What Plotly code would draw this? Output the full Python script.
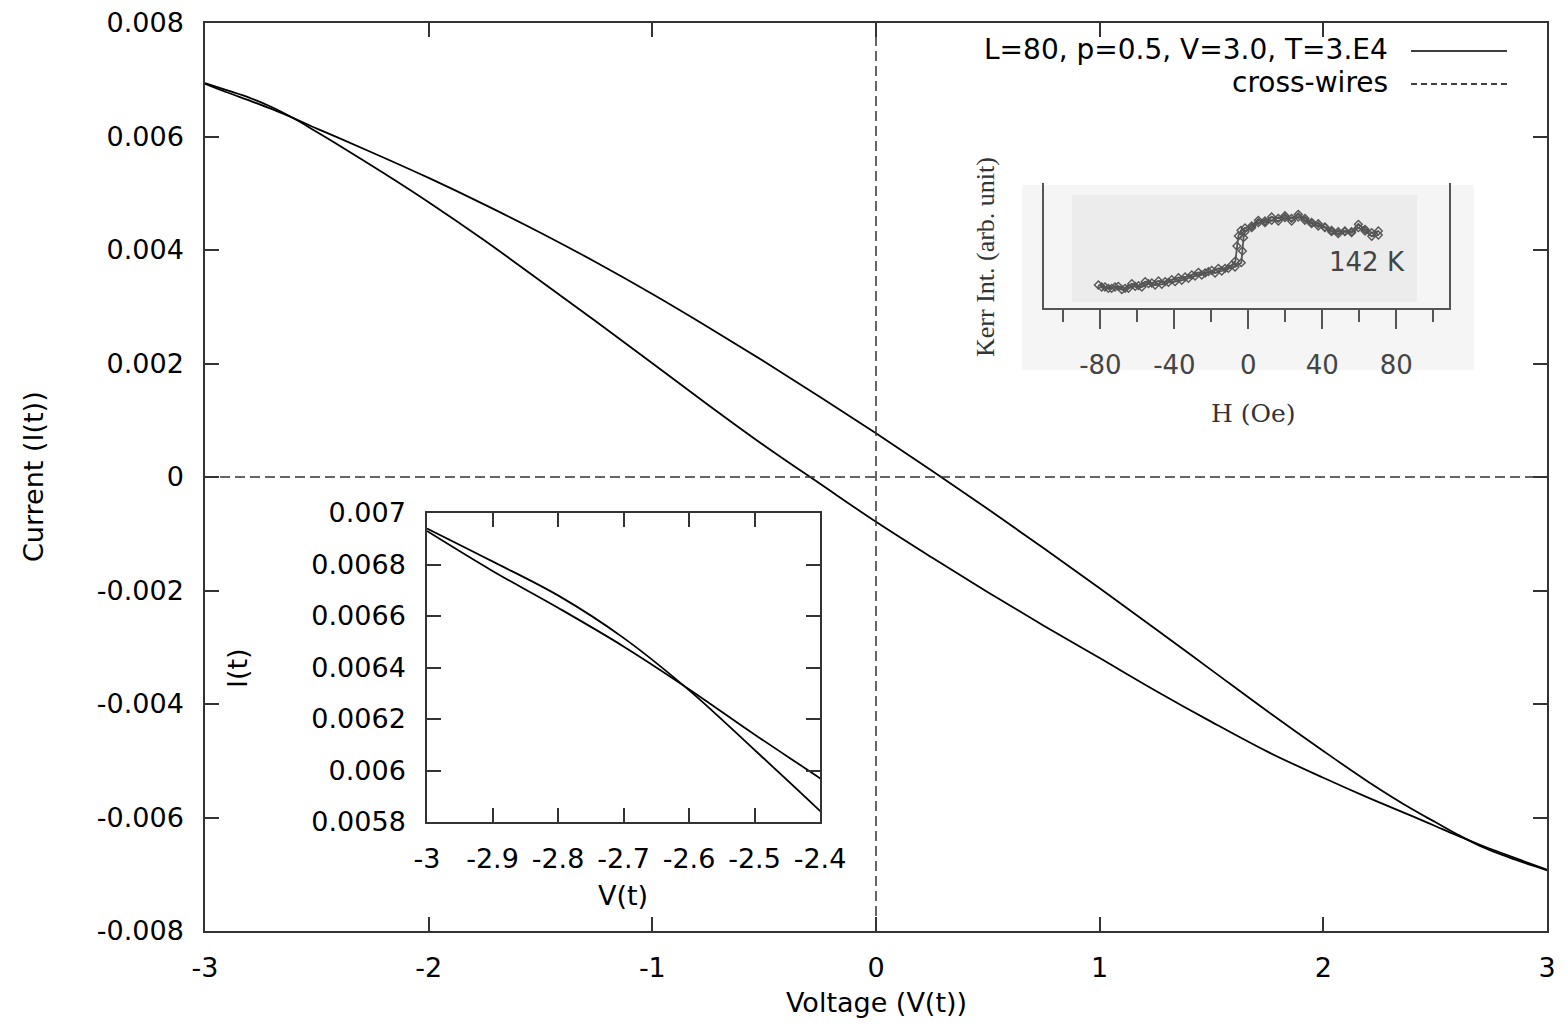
import plotly.graph_objects as go

# ---------------- data ----------------
V = [-3.0, -2.9, -2.8, -2.7, -2.6, -2.5, -2.4, -2.2, -2.0, -1.75, -1.5, -1.25, -1.0, -0.75, -0.5, -0.25,
     0.0, 0.25, 0.5, 0.75, 1.0, 1.25, 1.5, 1.75, 2.0, 2.2, 2.4, 2.5, 2.6, 2.7, 2.8, 2.9, 3.0]
I_branch_a = [0.006930, 0.006775, 0.006632, 0.006482, 0.006316, 0.006140, 0.005970, 0.005626, 0.005270,
              0.004800, 0.004305, 0.003780, 0.003225, 0.002640, 0.002035, 0.001410, 0.000770, 0.000110,
              -0.000565, -0.001255, -0.001960, -0.002678, -0.003403, -0.004128, -0.004828, -0.005368,
              -0.005860, -0.006080, -0.006300, -0.006500, -0.006660, -0.006800, -0.006930]
I_branch_b = [0.006940, 0.006812, 0.006680, 0.006515, 0.006312, 0.006080, 0.005843, 0.005352, 0.004842,
              0.004167, 0.003455, 0.002735, 0.002005, 0.001270, 0.000555, -0.000120, -0.000790, -0.001420,
              -0.002030, -0.002620, -0.003190, -0.003765, -0.004315, -0.004840, -0.005300, -0.005650,
              -0.005980, -0.006150, -0.006320, -0.006480, -0.006630, -0.006775, -0.006920]

cross_x_h = [-3, 3]
cross_y_h = [0, 0]
cross_x_v = [0, 0]
cross_y_v = [-0.008, 0.008]

main_xticks = [-3, -2, -1, 0, 1, 2, 3]
main_xticktext = ["-3", "-2", "-1", "0", "1", "2", "3"]
main_yticks = [-0.008, -0.006, -0.004, -0.002, 0, 0.002, 0.004, 0.006, 0.008]
main_yticktext = ["-0.008", "-0.006", "-0.004", "-0.002", "0", "0.002", "0.004", "0.006", "0.008"]

inset_xticks = [-3, -2.9, -2.8, -2.7, -2.6, -2.5, -2.4]
inset_xticktext = ["-3", "-2.9", "-2.8", "-2.7", "-2.6", "-2.5", "-2.4"]
inset_yticks = [0.0058, 0.006, 0.0062, 0.0064, 0.0066, 0.0068, 0.007]
inset_yticktext = ["0.0058", "0.006", "0.0062", "0.0064", "0.0066", "0.0068", "0.007"]

# Kerr hysteresis (arb. units), two sweep branches
H_up = [-81.1, -77.5, -73.9, -70.3, -66.6, -63.0, -59.4, -55.8, -52.2, -48.6, -45.0, -41.4, -37.8, -34.2,
        -30.6, -27.0, -23.4, -19.8, -16.2, -12.6, -9.0, -7.0, -6.2, -5.4, -4.0, -1.8, 1.8, 5.4, 9.0, 12.6,
        16.2, 19.8, 23.4, 27.0, 30.6, 34.2, 37.8, 41.4, 45.0, 48.6, 52.2, 55.8, 59.5, 63.1, 66.7, 70.3]
K_up = [23, 21, 19.7, 21.7, 19.7, 24.3, 22.3, 26.3, 25, 27, 26.3, 28.3, 30.3, 31, 33, 35.7, 35, 37.7, 39.7,
        39.7, 43, 47, 62, 72, 77.7, 80, 82, 87.7, 87, 91, 89.7, 92.3, 89.7, 93.7, 89.7, 85.7, 84.3, 81,
        77.7, 76.3, 77, 76.3, 83.7, 78.7, 75.3, 77]
H_down = [70.3, 66.7, 63.1, 59.5, 55.8, 52.2, 48.6, 45.0, 41.4, 37.8, 34.2, 30.6, 27.0, 23.4, 19.8, 16.2,
          12.6, 9.0, 5.4, 1.8, -1.8, -2.6, -3.2, -3.8, -7.2, -10.8, -14.4, -18.0, -21.6, -25.2, -28.8,
          -32.4, -36.0, -39.6, -43.2, -46.8, -50.4, -54.0, -57.6, -61.2, -64.8, -68.4, -72.1, -75.7, -79.3]
K_down = [73, 71.7, 77, 80.3, 75.3, 76.3, 74.3, 76.3, 80.3, 82, 84.3, 87.7, 91, 87, 90.3, 87, 87.7, 85.3,
          85.3, 80.3, 76.3, 70.3, 57, 45.3, 41, 39.7, 37, 35, 36.3, 33, 32, 29.7, 27.7, 26.3, 25.7, 23.7,
          23, 24.3, 21, 21.7, 19.7, 18.3, 21, 19.7, 21]
kerr_xticks = [-80, -40, 0, 40, 80]
kerr_xticktext = ["-80", "-40", "0", "40", "80"]
kerr_minor = [-100, -60, -20, 20, 60, 100]

legend_main = "L=80, p=0.5, V=3.0, T=3.E4"
legend_cross = "cross-wires"

# ---------------- figure ----------------
SANS = "DejaVu Sans"
AX = "#333333"
GRAY = "#555555"

fig = go.Figure()

for yy in (I_branch_a, I_branch_b):
    fig.add_trace(go.Scatter(x=V, y=yy, mode="lines", line=dict(color="black", width=1.8, shape="spline", smoothing=1.0),
                             xaxis="x", yaxis="y", showlegend=False, hoverinfo="skip"))
fig.add_trace(go.Scatter(x=cross_x_h, y=cross_y_h, mode="lines", line=dict(color=AX, width=1.5, dash="10px,5px"),
                         xaxis="x", yaxis="y", showlegend=False))
fig.add_trace(go.Scatter(x=cross_x_v, y=cross_y_v, mode="lines", line=dict(color=AX, width=1.5, dash="10px,5px"),
                         xaxis="x", yaxis="y", showlegend=False))

for yy in (I_branch_a, I_branch_b):
    fig.add_trace(go.Scatter(x=V, y=yy, mode="lines", line=dict(color="black", width=1.8, shape="spline", smoothing=1.0),
                             xaxis="x2", yaxis="y2", showlegend=False))

for hh, kk in ((H_up, K_up), (H_down, K_down)):
    fig.add_trace(go.Scatter(x=hh, y=kk, mode="lines+markers",
                             line=dict(color=GRAY, width=1.8),
                             marker=dict(symbol="diamond-open", size=6, color=GRAY, line=dict(width=1.4, color=GRAY)),
                             xaxis="x3", yaxis="y3", showlegend=False))

# page places the figure 8px in from the top-left corner (default body margin)
OFF = 8
W, Hh = 1567, 1025
L, R, T, B = 205 - OFF, 20 + OFF, 23 - OFF, 94 + OFF
PW, PH = W - L - R, Hh - T - B


def px(x):
    return (x - OFF - L) / PW


def py(y):
    return (Hh - B - (y - OFF)) / PH


tickfont = dict(family=SANS, size=27, color="black")
common = dict(showline=True, linecolor=AX, linewidth=1.5, mirror="allticks", ticks="inside",
              tickcolor=AX, tickwidth=1.5, showgrid=False, zeroline=False, tickfont=tickfont, automargin=False,
              ticklabeloverflow="allow")

fig.update_layout(
    width=W, height=Hh, autosize=False,
    margin=dict(l=L, r=R, t=T, b=B, pad=0, autoexpand=False),
    paper_bgcolor="white", plot_bgcolor="rgba(0,0,0,0)",
    showlegend=False,
    xaxis=dict(domain=[0, 1], range=[-3, 3], tickvals=main_xticks, ticktext=main_xticktext, ticklen=14,
               ticklabelstandoff=12, anchor="y", **common),
    yaxis=dict(domain=[0, 1], range=[-0.008, 0.008], tickvals=main_yticks, ticktext=main_yticktext, ticklen=14,
               ticklabelstandoff=14, anchor="x", **common),
    xaxis2=dict(domain=[px(427), px(820)], range=[-3, -2.4], tickvals=inset_xticks, ticktext=inset_xticktext,
                ticklen=14, ticklabelstandoff=12, anchor="y2", **common),
    yaxis2=dict(domain=[py(822), py(513)], range=[0.0058, 0.007], tickvals=inset_yticks, ticktext=inset_yticktext,
                ticklen=14, ticklabelstandoff=14, anchor="x2", **common),
    xaxis3=dict(domain=[px(1044), px(1449)], range=[-110.5, 108.5], anchor="y3", automargin=False,
                showline=True, linecolor=GRAY, linewidth=2.2, mirror=False, showgrid=False, zeroline=False,
                ticks="outside", ticklen=19, tickwidth=2.2, tickcolor=GRAY,
                tickvals=kerr_xticks, ticktext=kerr_xticktext, ticklabelstandoff=14, ticklabeloverflow="allow",
                tickfont=dict(family=SANS, size=26, color="#444444"),
                minor=dict(tickvals=kerr_minor, ticks="outside", ticklen=12, tickwidth=2.2, tickcolor=GRAY)),
    yaxis3=dict(domain=[py(308), py(183)], range=[0, 125], anchor="x3", automargin=False,
                showline=True, linecolor=GRAY, linewidth=2.2, mirror=True, showgrid=False, zeroline=False,
                ticks="", showticklabels=False),
)

shapes = [
    dict(type="rect", xref="paper", yref="paper", x0=px(1022), x1=px(1474), y0=py(370), y1=py(185),
         fillcolor="#f5f5f5", line=dict(width=0), layer="below"),
    dict(type="rect", xref="paper", yref="paper", x0=px(1072), x1=px(1417), y0=py(302), y1=py(195),
         fillcolor="#ececec", line=dict(width=0), layer="below"),
    dict(type="line", xref="paper", yref="paper", x0=px(1411), x1=px(1507), y0=py(51), y1=py(51),
         line=dict(color="black", width=1.5)),
    dict(type="line", xref="paper", yref="paper", x0=px(1411), x1=px(1507), y0=py(84), y1=py(84),
         line=dict(color="black", width=1.5, dash="6px,4px")),
]
fig.update_layout(shapes=shapes)

ann = [
    dict(text=legend_main, x=px(1390), y=py(50), xanchor="right", yanchor="middle",
         font=dict(family=SANS, size=28, color="black")),
    dict(text=legend_cross, x=px(1390), y=py(83), xanchor="right", yanchor="middle",
         font=dict(family=SANS, size=28, color="black")),
    dict(text="Voltage (V(t))", x=px(876), y=py(1002), xanchor="center", yanchor="middle",
         font=dict(family=SANS, size=27, color="black")),
    dict(text="Current (I(t))", x=px(33), y=py(477), xanchor="center", yanchor="middle", textangle=-90,
         font=dict(family=SANS, size=27, color="black")),
    dict(text="V(t)", x=px(623), y=py(895), xanchor="center", yanchor="middle",
         font=dict(family=SANS, size=27, color="black")),
    dict(text="I(t)", x=px(237), y=py(668), xanchor="center", yanchor="middle", textangle=-90,
         font=dict(family=SANS, size=27, color="black")),
    dict(text="H (Oe)", x=px(1253), y=py(413), xanchor="center", yanchor="middle",
         font=dict(family="DejaVu Serif", size=25, color="#333333")),
    dict(text="Kerr Int. (arb. unit)", x=px(985), y=py(257), xanchor="center", yanchor="middle", textangle=-90,
         font=dict(family="Liberation Serif", size=26, color="#333333")),
    dict(text="142 K", x=px(1367), y=py(262), xanchor="center", yanchor="middle",
         font=dict(family=SANS, size=26, color="#444444")),
]
for a in ann:
    a.update(xref="paper", yref="paper", showarrow=False)
fig.update_layout(annotations=ann)

fig.write_html("out.html")
